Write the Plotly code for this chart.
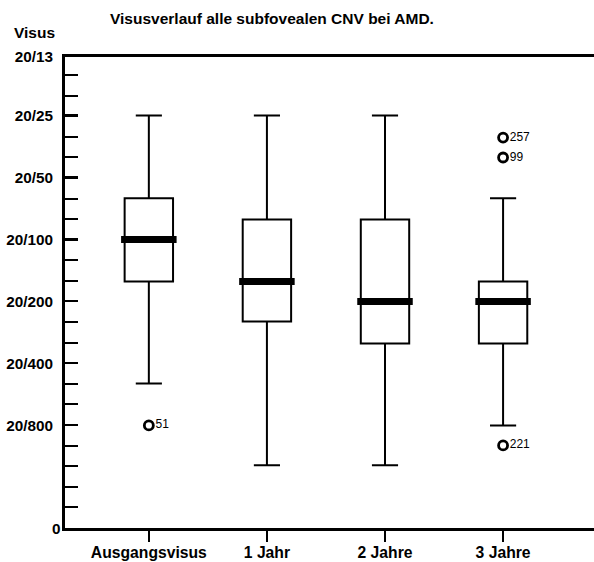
import numpy as np
import plotly.graph_objects as go

# Visual acuity per time point, given as Snellen denominators (20/x)
categories = ["Ausgangsvisus", "1 Jahr", "2 Jahre", "3 Jahre"]
upper_whisker = [25, 25, 25, 63]
upper_quartile = [63, 80, 80, 160]
median = [100, 160, 200, 200]
lower_quartile = [160, 250, 320, 320]
lower_whisker = [500, 1250, 1250, 800]

# Outliers: category, Snellen denominator, case number
outlier_cat = ["Ausgangsvisus", "3 Jahre", "3 Jahre", "3 Jahre"]
outlier_den = [800, 32, 40, 1000]
outlier_id = ["51", "257", "99", "221"]

# Axis labels (Snellen fractions) and the floor value labelled "0"
tick_den = [800, 400, 200, 100, 50, 25, 13]
tick_text = ["20/800", "20/400", "20/200", "20/100", "20/50", "20/25", "20/13"]
floor_value = -2.1
floor_label = "0"


def lv(den):
    """log10 of decimal acuity for Snellen 20/den."""
    return np.log10(20.0 / np.asarray(den, dtype=float))


FONT = "Liberation Sans, Arial, Helvetica, sans-serif"
PLOT_W = 594 - 65
PLOT_H = 562 - 57 - 34

fig = go.Figure()

# Boxes and whiskers
fig.add_trace(go.Box(
    x=categories,
    q1=lv(lower_quartile), median=lv(median), q3=lv(upper_quartile),
    lowerfence=lv(lower_whisker), upperfence=lv(upper_whisker),
    width=0.41, whiskerwidth=0.54,
    fillcolor="white", line=dict(color="black", width=2),
    boxpoints=False, hoverinfo="skip", showlegend=False,
))

# Thick median bars, slightly wider than the boxes
fig.add_trace(go.Box(
    x=categories,
    q1=lv(median), median=lv(median), q3=lv(median),
    lowerfence=lv(median), upperfence=lv(median),
    width=0.47, whiskerwidth=0,
    fillcolor="black", line=dict(color="black", width=7),
    boxpoints=False, hoverinfo="skip", showlegend=False,
))

# Outliers with case numbers
fig.add_trace(go.Scatter(
    x=outlier_cat, y=lv(outlier_den), text=outlier_id,
    mode="markers+text", textposition="middle right",
    textfont=dict(family=FONT, size=12, color="black"),
    marker=dict(symbol="circle-open", size=9, color="black",
                line=dict(width=2.8, color="black")),
    hoverinfo="skip", showlegend=False, cliponaxis=False,
))

fig.update_layout(
    width=594, height=562,
    margin=dict(l=65, r=0, t=57, b=34),
    paper_bgcolor="white", plot_bgcolor="white",
    boxmode="overlay",
    font=dict(family=FONT, color="black"),
    xaxis=dict(
        type="category", categoryorder="array", categoryarray=categories,
        range=[-0.71, 3.77],
        showline=True, linecolor="black", linewidth=2.5, mirror=True,
        ticks="outside", ticklen=11, tickwidth=2, tickcolor="black",
        ticklabelstandoff=-3,
        tickfont=dict(family=FONT, size=15.7, color="black", weight="bold"),
        showgrid=False, zeroline=False, fixedrange=True,
    ),
    yaxis=dict(
        range=[floor_value, lv(13)],
        tickmode="array",
        tickvals=[floor_value] + list(lv(tick_den)),
        ticktext=[""] + tick_text,
        showline=True, linecolor="black", linewidth=3, mirror=False,
        ticks="inside", ticklen=13, tickwidth=2, tickcolor="black",
        ticklabelstandoff=6,
        minor=dict(tickmode="linear", tick0=floor_value, dtick=0.1,
                   ticks="inside", ticklen=13, tickwidth=2,
                   tickcolor="black", showgrid=False),
        tickfont=dict(family=FONT, size=15.3, color="black", weight="bold"),
        showgrid=False, zeroline=False, fixedrange=True,
    ),
    annotations=[
        dict(text="<b>Visusverlauf alle subfovealen CNV bei AMD.</b>",
             xref="paper", yref="paper", x=(108 - 65) / PLOT_W, y=1 + (57 - 18) / PLOT_H,
             xanchor="left", yanchor="middle", showarrow=False,
             font=dict(family=FONT, size=15.5, color="black")),
        dict(text="<b>Visus</b>",
             xref="paper", yref="paper", x=(34 - 65) / PLOT_W, y=1 + (57 - 32) / PLOT_H,
             xanchor="center", yanchor="middle", showarrow=False,
             font=dict(family=FONT, size=15.5, color="black")),
        dict(text="<b>%s</b>" % floor_label,
             xref="paper", yref="y", x=(63 - 65) / PLOT_W, y=floor_value,
             xanchor="right", yanchor="middle", showarrow=False,
             font=dict(family=FONT, size=15.3, color="black")),
    ],
)

fig.write_html("out.html")
